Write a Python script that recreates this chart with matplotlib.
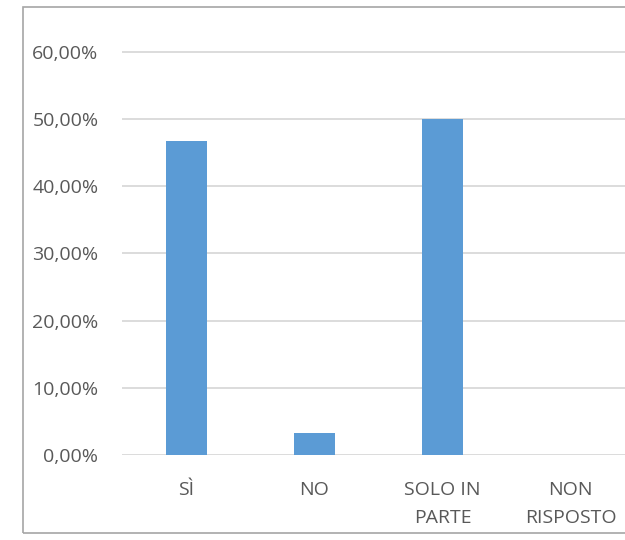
import matplotlib
matplotlib.use("Agg")
import matplotlib.pyplot as plt
from matplotlib.patches import Rectangle
from matplotlib.ticker import FuncFormatter

categories = ["SÌ", "NO", "SOLO IN\nPARTE", "NON\nRISPOSTO"]
values = [46.67, 3.33, 50.0, 0.0]
yticks = [0, 10, 20, 30, 40, 50, 60]

W, H = 625, 540
fig = plt.figure(figsize=(W / 100, H / 100), dpi=100)
plt.rcParams['font.family'] = ['Open Sans', 'DejaVu Sans']

# outer chart border (right edge lies outside the picture)
fig.patches.append(Rectangle((23 / W, (H - 533) / H), 1.2, (533 - 7) / H,
                             transform=fig.transFigure, fill=False,
                             edgecolor="#A6A6A6", linewidth=1.2, zorder=0))

left, right = 122, 635
bottom, top = 455, 18
ax = fig.add_axes([left / W, (H - bottom) / H, (right - left) / W, (bottom - top) / H])
ax.set_xlim(-0.5, len(categories) - 0.5)
ax.set_ylim(0, 65)

x = list(range(len(categories)))
ax.bar(x, values, width=0.32, color="#5B9BD5", zorder=3)

ax.set_yticks(yticks)
ax.yaxis.set_major_formatter(FuncFormatter(lambda v, p: f"{v:.2f}%".replace(".", ",")))
ax.grid(axis="y", color="#D9D9D9", linewidth=1.3, zorder=0)
ax.set_xticks(x)
ax.set_xticklabels(categories, linespacing=1.7)

for s in ax.spines.values():
    s.set_visible(False)
ax.tick_params(axis="both", length=0, labelsize=14, labelcolor="#595959")
ax.tick_params(axis="y", pad=17)
ax.tick_params(axis="x", pad=19)
for lbl in ax.get_xticklabels():
    lbl.set_verticalalignment("top")

fig.savefig("out.png", dpi=100)
